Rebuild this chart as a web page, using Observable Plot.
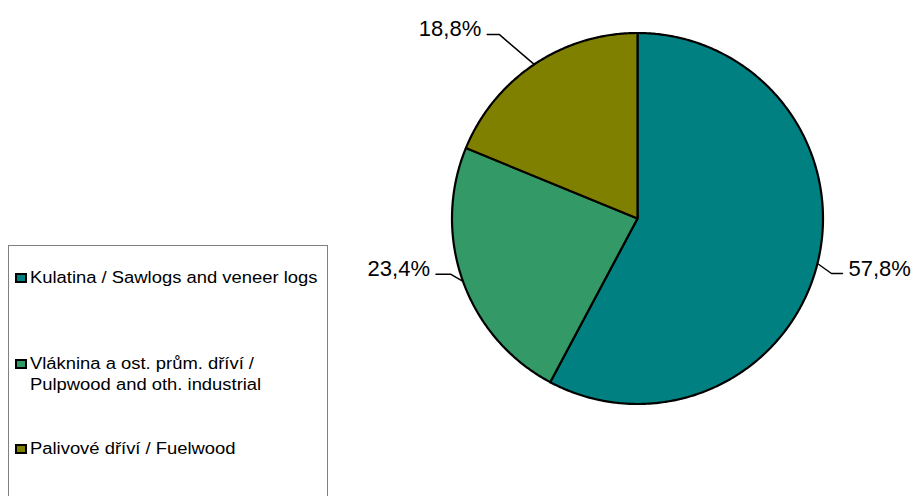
<!DOCTYPE html>
<html>
<head>
<meta charset="utf-8">
<script src="https://cdn.jsdelivr.net/npm/d3@7"></script>
<script src="https://cdn.jsdelivr.net/npm/@observablehq/plot@0.6"></script>
<style>
  html, body { margin: 0; padding: 0; background: #fff; }
  #wrap { position: relative; width: 920px; height: 496px; overflow: hidden; font-family: "Liberation Sans", Arial, sans-serif; }
  #wrap svg { position: absolute; left: 0; top: 0; }
  #legend { position: absolute; left: 8px; top: 245px; width: 320px; height: 300px; border: 1px solid #808080; background: #fff; box-sizing: border-box; }
  .item { position: absolute; left: 6px; font-size: 16px; line-height: 21px; color: #000; }
  .txt { display: inline-block; position: absolute; left: 15px; top: 0; white-space: pre; transform: scaleX(1.15); transform-origin: 0 0; }
  .sw { position: absolute; left: 0; top: 5.5px; width: 12px; height: 10.5px; border: 2px solid #000; box-sizing: border-box; }
</style>
</head>
<body>
<div id="wrap"></div>
<script>
// ---- data ----
const categories = [
  "Kulatina / Sawlogs and veneer logs",
  "Vláknina a ost. prům. dříví / Pulpwood and oth. industrial",
  "Palivové dříví / Fuelwood"
];
const legendLabels = [
  "Kulatina / Sawlogs and veneer logs",
  "Vláknina a ost. prům. dříví /\nPulpwood and oth. industrial",
  "Palivové dříví / Fuelwood"
];
const shares = [57.8, 23.4, 18.8];
const valueLabels = ["57,8%", "23,4%", "18,8%"];
const colors = ["#008080", "#339966", "#808000"];

// ---- layout ----
const W = 920, H = 496;
const cx = 637, cy = 218, r = 185.5;
const leader = [
  {dx: 14, dy: 10, h: 11},
  {dx: -12, dy: -7, h: -15},
  {dx: -35, dy: -30, h: -12}
];
const legendTops = [21, 107, 192];

const arcs = d3.pie().sort(null).value(d => d)(shares);
const px = a => cx + r * Math.sin(a);
const py = a => cy - r * Math.cos(a);

const slicePts = [];
arcs.forEach((a, i) => {
  const cat = categories[i];
  slicePts.push({cat, x: cx, y: cy});
  const n = Math.max(2, Math.ceil((a.endAngle - a.startAngle) / (Math.PI / 360)));
  for (let k = 0; k <= n; k++) {
    const t = a.startAngle + (a.endAngle - a.startAngle) * k / n;
    slicePts.push({cat, x: px(t), y: py(t)});
  }
  slicePts.push({cat, x: cx, y: cy});
});

const leaderPts = [];
const textData = [];
arcs.forEach((a, i) => {
  const m = (a.startAngle + a.endAngle) / 2;
  const ex = px(m), ey = py(m);
  const L = leader[i];
  const bx = ex + L.dx, by = ey + L.dy;
  const fx = bx + L.h;
  leaderPts.push({k: i, x: ex, y: ey}, {k: i, x: bx, y: by}, {k: i, x: fx, y: by});
  const dir = Math.sign(L.h);
  textData.push({x: fx + dir * 6, y: by - 5, label: valueLabels[i], anchor: dir > 0 ? "start" : "end"});
});

const chart = Plot.plot({
  width: W, height: H,
  margin: 0,
  x: {type: "identity", axis: null},
  y: {type: "identity", axis: null},
  color: {domain: categories, range: colors},
  style: {fontFamily: "'Liberation Sans', Arial, sans-serif", background: "#fff", color: "#000"},
  marks: [
    Plot.line(slicePts, {x: "x", y: "y", z: "cat", fill: "cat", stroke: "#000", strokeWidth: 2.2, strokeLinejoin: "round", curve: "linear"}),
    Plot.line(leaderPts, {x: "x", y: "y", z: "k", stroke: "#000", strokeWidth: 1.5, curve: "linear"}),
    Plot.text(textData.filter(d => d.anchor === "start"), {x: "x", y: "y", text: "label", textAnchor: "start", fontSize: 22, fill: "#000"}),
    Plot.text(textData.filter(d => d.anchor === "end"), {x: "x", y: "y", text: "label", textAnchor: "end", fontSize: 22, fill: "#000"})
  ]
});

const wrap = document.getElementById("wrap");
wrap.appendChild(chart);

const legend = document.createElement("div");
legend.id = "legend";
legendLabels.forEach((lab, i) => {
  const it = document.createElement("div");
  it.className = "item";
  it.style.top = legendTops[i] + "px";
  const sw = document.createElement("span");
  sw.className = "sw";
  sw.style.background = colors[i];
  it.appendChild(sw);
  const t = document.createElement("span");
  t.className = "txt";
  t.textContent = lab;
  it.appendChild(t);
  legend.appendChild(it);
});
wrap.appendChild(legend);
</script>
</body>
</html>
